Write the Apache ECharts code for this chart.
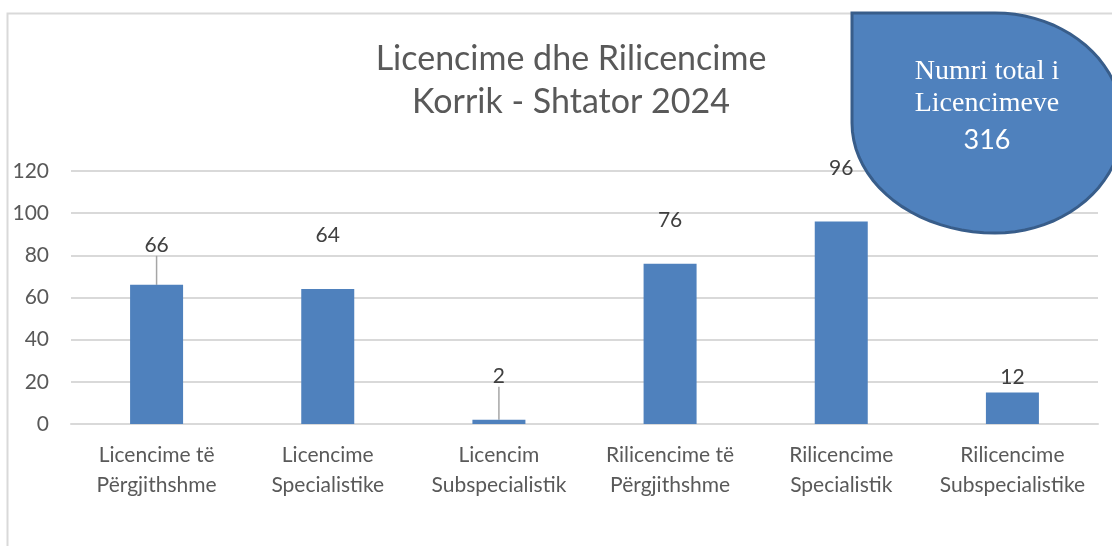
<!DOCTYPE html>
<html>
<head>
<meta charset="utf-8">
<script src="https://cdn.jsdelivr.net/npm/echarts@6/dist/echarts.min.js"></script>
<style>
  html, body { margin: 0; padding: 0; background: #fff; }
  #chart { width: 1112px; height: 546px; }
</style>
</head>
<body>
<div id="chart"></div>
<script>
var categories = ['Licencime të\nPërgjithshme', 'Licencime\nSpecialistike', 'Licencim\nSubspecialistik',
                  'Rilicencime të\nPërgjithshme', 'Rilicencime\nSpecialistik', 'Rilicencime\nSubspecialistike'];
var barValues = [66, 64, 2, 76, 96, 15];
var valueLabels = ['66', '64', '2', '76', '96', '12'];
var yTicks = [0, 20, 40, 60, 80, 100, 120];
var totalLabel = ['Numri total i', 'Licencimeve', '316'];

// how far each value label sits above its bar, and which get a leader line
var labelShift = [-24, -38, -28, -28, -38, 0];
var leader = [true, false, true, false, false, false];

var textColor = '#595959';
var font = 'Lato, "Open Sans", sans-serif';

// callout shape: square top-left corner, the rest rounded
function calloutPoints() {
    var pts = [[852, 13], [995, 13]];
    var cx = 995, cy = 123, ry = 110, i, a;
    for (i = 0; i <= 40; i++) {
        a = -Math.PI / 2 + Math.PI * i / 40;
        pts.push([cx + 128 * Math.cos(a), cy + ry * Math.sin(a)]);
    }
    for (i = 0; i <= 20; i++) {
        a = Math.PI / 2 + Math.PI / 2 * i / 20;
        pts.push([cx + 143 * Math.cos(a), cy + ry * Math.sin(a)]);
    }
    return pts;
}

var chart = echarts.init(document.getElementById('chart'));

var option = {
    animation: false,
    title: {
        text: 'Licencime dhe Rilicencime\nKorrik - Shtator 2024',
        left: 566,
        textAlign: 'center',
        top: 33,
        textStyle: {
            color: textColor,
            fontFamily: font,
            fontWeight: 'normal',
            fontSize: 34,
            lineHeight: 43
        }
    },
    grid: { left: 71, right: 14, top: 171, bottom: 122 },
    xAxis: {
        type: 'category',
        data: categories,
        axisTick: { show: false },
        axisLine: { show: true, lineStyle: { color: '#d9d9d9', width: 2 } },
        axisLabel: {
            color: textColor,
            fontFamily: font,
            fontSize: 21,
            lineHeight: 30,
            margin: 16,
            interval: 0
        }
    },
    yAxis: {
        type: 'value',
        min: yTicks[0],
        max: yTicks[yTicks.length - 1],
        interval: 20,
        axisLine: { show: false },
        axisTick: { show: false },
        splitLine: { lineStyle: { color: '#d9d9d9', width: 2 } },
        axisLabel: { color: textColor, fontFamily: font, fontSize: 21, margin: 22 }
    },
    series: [{
        type: 'bar',
        barWidth: 53,
        data: barValues.map(function (v, i) {
            return {
                value: v,
                labelLine: { show: leader[i] }
            };
        }),
        itemStyle: { color: '#4f81bd' },
        label: {
            show: true,
            position: 'top',
            distance: 5,
            color: '#404040',
            fontFamily: font,
            fontSize: 21,
            formatter: function (p) { return valueLabels[p.dataIndex]; }
        },
        labelLine: { lineStyle: { color: '#a6a6a6', width: 1.5 } },
        labelLayout: function (p) {
            return { dy: labelShift[p.dataIndex] };
        }
    }],
    graphic: [
        {
            type: 'rect',
            z: -1,
            shape: { x: 7.5, y: 13.5, width: 1200, height: 600 },
            style: { fill: 'none', stroke: '#d9d9d9', lineWidth: 2 }
        },
        {
            type: 'polygon',
            z: 10,
            shape: { points: calloutPoints() },
            style: { fill: '#4f81bd', stroke: '#385d8a', lineWidth: 3 }
        },
        {
            type: 'text',
            z: 11,
            x: 987,
            y: 56,
            style: {
                text: totalLabel[0] + '\n' + totalLabel[1],
                fill: '#fff',
                font: '28px "Liberation Serif", serif',
                lineHeight: 32,
                align: 'center'
            }
        },
        {
            type: 'text',
            z: 11,
            x: 987,
            y: 127,
            style: {
                text: totalLabel[2],
                fill: '#fff',
                font: '27px ' + font,
                align: 'center'
            }
        }
    ]
};

chart.setOption(option);
</script>
</body>
</html>
